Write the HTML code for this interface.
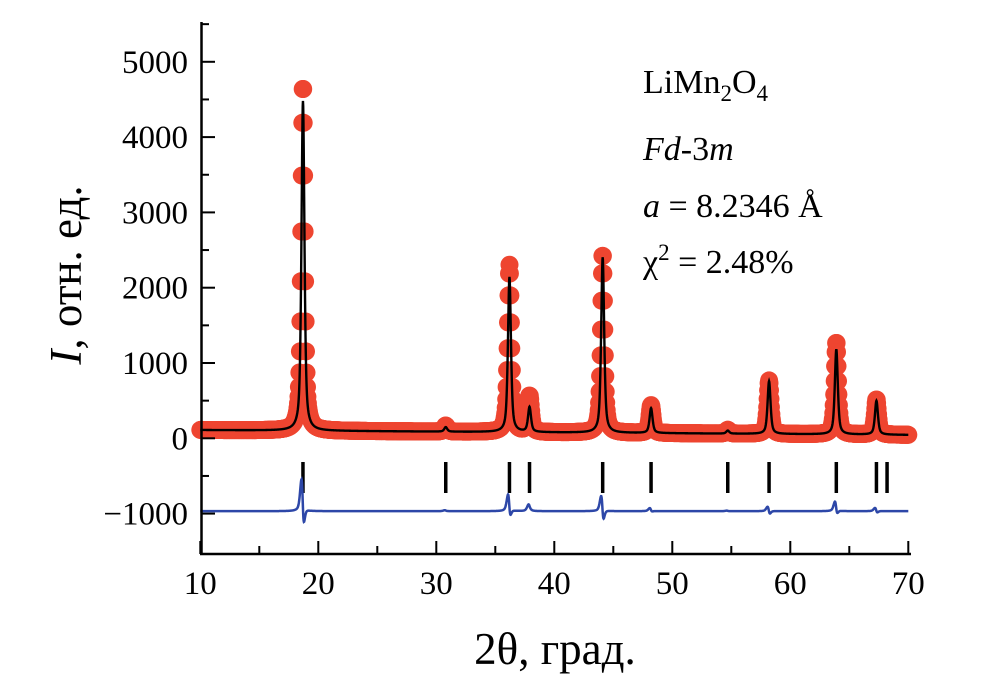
<!DOCTYPE html>
<html><head><meta charset="utf-8"><style>
body{margin:0;background:#fff;}
svg{display:block;font-family:"Liberation Serif",serif;}
</style></head><body>
<svg id="chart" width="1004" height="682" viewBox="0 0 1004 682" xmlns="http://www.w3.org/2000/svg">
<g id="obs"></g>
<g id="calc"></g>
<g id="bragg"></g>
<g id="diff"></g>
<g id="axes"></g>
<g font-size="34" fill="#000">
<text x="643" y="93">LiMn<tspan font-size="23" dy="8">2</tspan><tspan dy="-8">O</tspan><tspan font-size="23" dy="8">4</tspan></text>
<text x="643" y="160" font-style="italic">Fd<tspan font-style="normal">-3</tspan>m</text>
<text x="643" y="217"><tspan font-style="italic">a</tspan> = 8.2346 Å</text>
<text x="643" y="273">χ<tspan font-size="23" dy="-13">2</tspan><tspan dy="13"> = 2.48%</tspan></text>
</g>
<text x="555" y="664" font-size="45" text-anchor="middle">2θ, град.</text>
<text transform="translate(81,275) rotate(-90)" font-size="45" text-anchor="middle"><tspan font-style="italic">I</tspan>, отн. ед.</text>
</svg>
<script>
// Peak data
const peakPos   = [18.7, 30.8, 36.2, 37.9, 44.1, 48.2, 54.7, 58.2, 63.9, 67.3];
const calcHeight= [4380, 60, 2060, 330, 2330, 330, 40, 700, 1130, 450];
const obsHeight = [4600, 80, 2220, 480, 2380, 370, 50, 710, 1230, 470];
const braggPos  = [18.7, 30.8, 36.2, 37.9, 44.1, 48.2, 54.7, 58.2, 63.9, 67.3, 68.2];
const bgStart = 110, bgEnd = 45;
const diffOffset = -968;
const xTicks = [10, 20, 30, 40, 50, 60, 70];
const yTicks = [-1000, 0, 1000, 2000, 3000, 4000, 5000];

const NS = "http://www.w3.org/2000/svg";
const X = v => 200.3 + (v - 10) * 11.8;
const Y = v => 438.3 - v * 0.0753;
function bg(t){ return bgStart + (bgEnd - bgStart) * (t - 10) / 60; }
function prof(t, heights, g, sh){
  let s = bg(t);
  for (let i = 0; i < peakPos.length; i++){
    const d = (t - peakPos[i] - sh) / g;
    s += heights[i] * (0.6 / (1 + d*d) + 0.4 * Math.exp(-0.693 * d*d));
  }
  return s;
}
function mk(tag, attrs, parent){
  const e = document.createElementNS(NS, tag);
  for (const k in attrs) e.setAttribute(k, attrs[k]);
  parent.appendChild(e); return e;
}
const obsG = document.getElementById('obs');
for (let t = 10; t <= 70.001; t += 0.04){
  const c = mk('circle', {cx: X(t).toFixed(1), cy: Y(prof(t, obsHeight, 0.16, 0)).toFixed(1), r: 9, fill: '#ee4530'}, obsG);
  
  
}
let d1 = '', d2 = '';
for (let t = 10; t <= 70.001; t += 0.02){
  d1 += (d1 ? 'L' : 'M') + X(t).toFixed(2) + ',' + Y(prof(t, calcHeight, 0.15, 0)).toFixed(2);
  const df = prof(t, obsHeight, 0.16, -0.03) - prof(t, calcHeight, 0.15, 0);
  d2 += (d2 ? 'L' : 'M') + X(t).toFixed(2) + ',' + Y(diffOffset + df * 0.5).toFixed(2);
}
const cl = mk('path', {d: d1, fill: 'none', stroke: '#000', 'stroke-width': 2.4}, document.getElementById('calc'));


const dl = mk('path', {d: d2, fill: 'none', stroke: '#2d47a8', 'stroke-width': 2.5}, document.getElementById('diff'));


const bgG = document.getElementById('bragg');
braggPos.forEach(p => {
  const l = mk('line', {x1: X(p), x2: X(p), y1: 462, y2: 493, stroke: '#000', 'stroke-width': 3.5}, bgG);
  
  
});
const ax = document.getElementById('axes');
const yl = mk('line', {x1: 201.5, x2: 201.5, y1: 22, y2: 555, stroke: '#000', 'stroke-width': 2.5}, ax);


const xl = mk('line', {x1: 200, x2: 911, y1: 554, y2: 554, stroke: '#000', 'stroke-width': 2.5}, ax);


yTicks.forEach(v => {
  const t = mk('line', {x1: 201, x2: 215, y1: Y(v), y2: Y(v), stroke: '#000', 'stroke-width': 2}, ax);
  
  
  const m = mk('line', {x1: 201, x2: 209, y1: Y(v + 500), y2: Y(v + 500), stroke: '#000', 'stroke-width': 2}, ax);
  
  
  const tx = mk('text', {x: 188, y: Y(v) + 11, 'font-size': 33, 'text-anchor': 'end'}, ax);
  tx.textContent = (v < 0 ? '\u2212' + (-v) : v);
  
  
});
xTicks.forEach(v => {
  const t = mk('line', {x1: X(v), x2: X(v), y1: 554, y2: 541, stroke: '#000', 'stroke-width': 2}, ax);
  
  
  if (v < 70){
    const m = mk('line', {x1: X(v + 5), x2: X(v + 5), y1: 554, y2: 546, stroke: '#000', 'stroke-width': 2}, ax);
    
    
  }
  const tx = mk('text', {x: X(v), y: 594, 'font-size': 33, 'text-anchor': 'middle'}, ax);
  tx.textContent = v;
  
  
});
</script>
</body></html>
